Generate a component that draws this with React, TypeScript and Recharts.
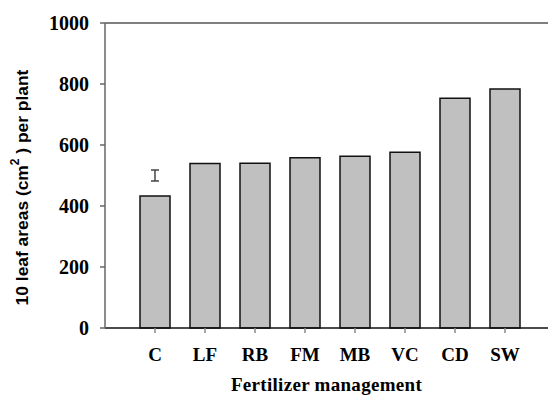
import React from 'react';
import { ComposedChart, Bar, Line, XAxis, YAxis, ErrorBar, ReferenceLine, Label } from 'recharts';

const categories = ['C', 'LF', 'RB', 'FM', 'MB', 'VC', 'CD', 'SW'];
const leafArea = [433, 539, 540, 558, 563, 576, 753, 784];
const errCenter = [500, null, null, null, null, null, null, null];
const errDelta = [18, null, null, null, null, null, null, null];
const yTicks = [0, 200, 400, 600, 800, 1000];

const data = categories.map((c, i) => ({
  name: c,
  area: leafArea[i],
  errMid: errCenter[i],
  err: errDelta[i],
}));

const SERIF = '"Liberation Serif", "Times New Roman", serif';
const SANS = '"Liberation Sans", Arial, sans-serif';

const YLabel = (props: any) => {
  const vb = props.viewBox || { x: 0, y: 0, width: 0, height: 0 };
  const cx = 22;
  const cy = vb.y + vb.height / 2 + 12;
  return (
    <text
      x={cx}
      y={cy}
      transform={`rotate(-90, ${cx}, ${cy})`}
      textAnchor="middle"
      dominantBaseline="central"
      fontFamily={SANS}
      fontWeight="bold"
      fontSize={17.4}
      fill="#000"
    >
      10 leaf areas (cm<tspan dy={-7} fontSize={12}>2</tspan><tspan dy={7}> ) per plant</tspan>
    </text>
  );
};

const XLabel = (props: any) => {
  const vb = props.viewBox || { x: 0, y: 0, width: 0, height: 0 };
  return (
    <text
      x={vb.x + vb.width / 2}
      y={391}
      textAnchor="middle"
      fontFamily={SERIF}
      fontWeight="bold"
      fontSize={19}
      letterSpacing={0.3}
      fill="#000"
    >
      Fertilizer management
    </text>
  );
};

const YTick = (props: any) => {
  const { x, y, payload } = props;
  return (
    <text
      x={x}
      y={y}
      dy={7}
      textAnchor="end"
      fontFamily={SERIF}
      fontWeight="bold"
      fontSize={20}
      fill="#000"
    >
      {payload.value}
    </text>
  );
};

export default function App() {
  return (
    <div style={{ position: 'absolute', left: 0, top: 0, background: '#fff' }}>
      <ComposedChart
        width={548}
        height={397}
        data={data}
        margin={{ top: 23, right: 0, bottom: 0, left: 0 }}
      >
        <XAxis
          dataKey="name"
          padding={{ left: 25, right: 18 }}
          axisLine={{ stroke: '#111', strokeWidth: 1.5 }}
          tickLine={{ stroke: '#888', strokeWidth: 1.5 }}
          tickSize={5}
          tickMargin={15}
          tick={{ fontFamily: SERIF, fontWeight: 'bold', fontSize: 19, fill: '#000' }}
          height={69}
          interval={0}
        >
          <Label content={<XLabel />} />
        </XAxis>
        <YAxis
          domain={[0, 1000]}
          ticks={yTicks}
          width={105}
          axisLine={{ stroke: '#666', strokeWidth: 1.5 }}
          tickLine={{ stroke: '#666', strokeWidth: 1.5 }}
          tickSize={5}
          tickMargin={11}
          tick={<YTick />}
        >
          <Label content={<YLabel />} />
        </YAxis>
        <ReferenceLine y={1000} stroke="#555" strokeWidth={1.5} />
        <Bar
          dataKey="area"
          fill="#c0c0c0"
          stroke="#111"
          strokeWidth={1.5}
          barSize={30}
          isAnimationActive={false}
        />
        <Line
          dataKey="errMid"
          stroke="none"
          dot={false}
          activeDot={false}
          isAnimationActive={false}
        >
          <ErrorBar dataKey="err" width={4} stroke="#444" strokeWidth={1.5} direction="y" />
        </Line>
      </ComposedChart>
    </div>
  );
}
